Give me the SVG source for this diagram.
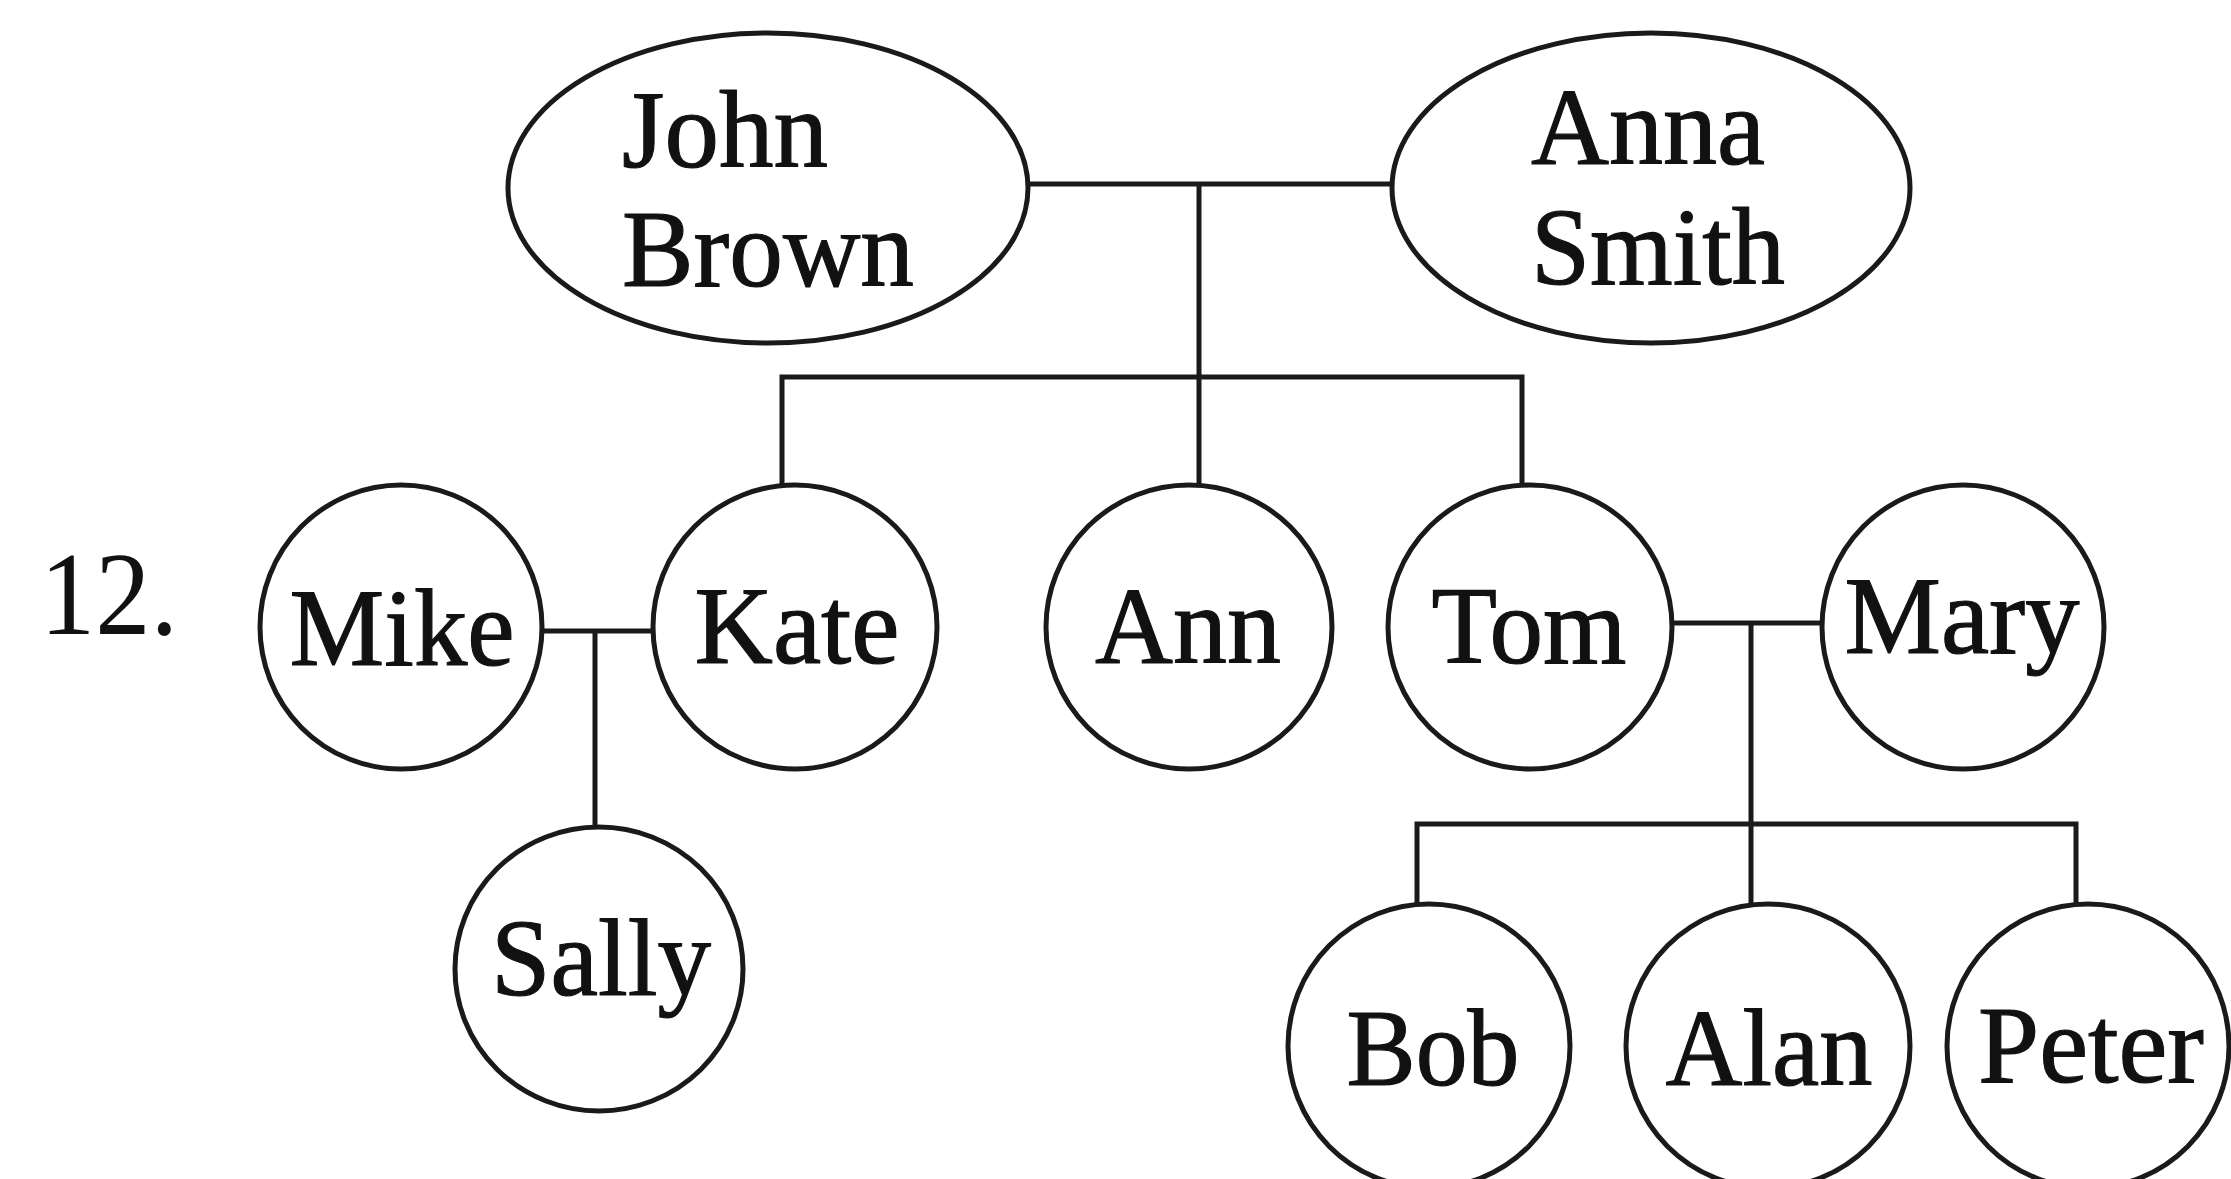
<svg xmlns="http://www.w3.org/2000/svg" width="2231" height="1179" viewBox="0 0 2231 1179">
<style>
.n{fill:#fff;stroke:#1a1a1a;stroke-width:5}
.c{fill:none;stroke:#1a1a1a;stroke-width:5;stroke-linecap:square}
.t{font-family:"Liberation Serif","Times New Roman",serif;font-size:111px;fill:#111;stroke:#111;stroke-width:1.2}
.m{text-anchor:middle}
</style>
<rect width="2231" height="1179" fill="#fff"/>
<g id="connectors">
<path class="c" d="M1028 184H1392M1199 184V485M782 377H1522M782 377V485M1522 377V485"/>
<path class="c" d="M542 631H654M595 631V827"/>
<path class="c" d="M1672 623H1822M1751 623V904M1417 824H2076M1417 824V904M2076 824V904"/>
</g>
<text id="label-12" x="40" y="634" font-family="'Liberation Serif',serif" font-size="118" textLength="138" lengthAdjust="spacingAndGlyphs" fill="#111">12.</text>
<g id="john"><ellipse class="n" cx="768" cy="188" rx="260" ry="155"/><text class="t" x="622" y="167" textLength="206" lengthAdjust="spacingAndGlyphs">John</text><text class="t" x="622" y="286" textLength="292" lengthAdjust="spacingAndGlyphs">Brown</text></g>
<g id="anna"><ellipse class="n" cx="1651" cy="188" rx="259" ry="155"/><text class="t" x="1531" y="164" textLength="234" lengthAdjust="spacingAndGlyphs">Anna</text><text class="t" x="1531" y="284" textLength="254" lengthAdjust="spacingAndGlyphs">Smith</text></g>
<g id="mike"><ellipse class="n" cx="401" cy="627" rx="141" ry="142"/><text class="t m" x="402" y="665" textLength="225" lengthAdjust="spacingAndGlyphs">Mike</text></g>
<g id="kate"><ellipse class="n" cx="795" cy="627" rx="142" ry="142"/><text class="t m" x="797" y="663" textLength="205" lengthAdjust="spacingAndGlyphs">Kate</text></g>
<g id="ann"><ellipse class="n" cx="1189" cy="627" rx="143" ry="142"/><text class="t m" x="1188" y="663" textLength="186" lengthAdjust="spacingAndGlyphs">Ann</text></g>
<g id="tom"><ellipse class="n" cx="1530" cy="627" rx="142" ry="142"/><text class="t m" x="1529" y="663" textLength="195" lengthAdjust="spacingAndGlyphs">Tom</text></g>
<g id="mary"><ellipse class="n" cx="1963" cy="627" rx="141" ry="142"/><text class="t m" x="1962" y="653" textLength="235" lengthAdjust="spacingAndGlyphs">Mary</text></g>
<g id="sally"><ellipse class="n" cx="599" cy="969" rx="144" ry="142"/><text class="t m" x="601" y="995" textLength="220" lengthAdjust="spacingAndGlyphs">Sally</text></g>
<g id="bob"><ellipse class="n" cx="1429" cy="1046" rx="141" ry="142"/><text class="t m" x="1433" y="1085" textLength="173" lengthAdjust="spacingAndGlyphs">Bob</text></g>
<g id="alan"><ellipse class="n" cx="1768" cy="1046" rx="142" ry="142"/><text class="t m" x="1769" y="1085" textLength="207" lengthAdjust="spacingAndGlyphs">Alan</text></g>
<g id="peter"><ellipse class="n" cx="2088" cy="1046" rx="141" ry="142"/><text class="t m" x="2091" y="1082" textLength="226" lengthAdjust="spacingAndGlyphs">Peter</text></g>
</svg>
